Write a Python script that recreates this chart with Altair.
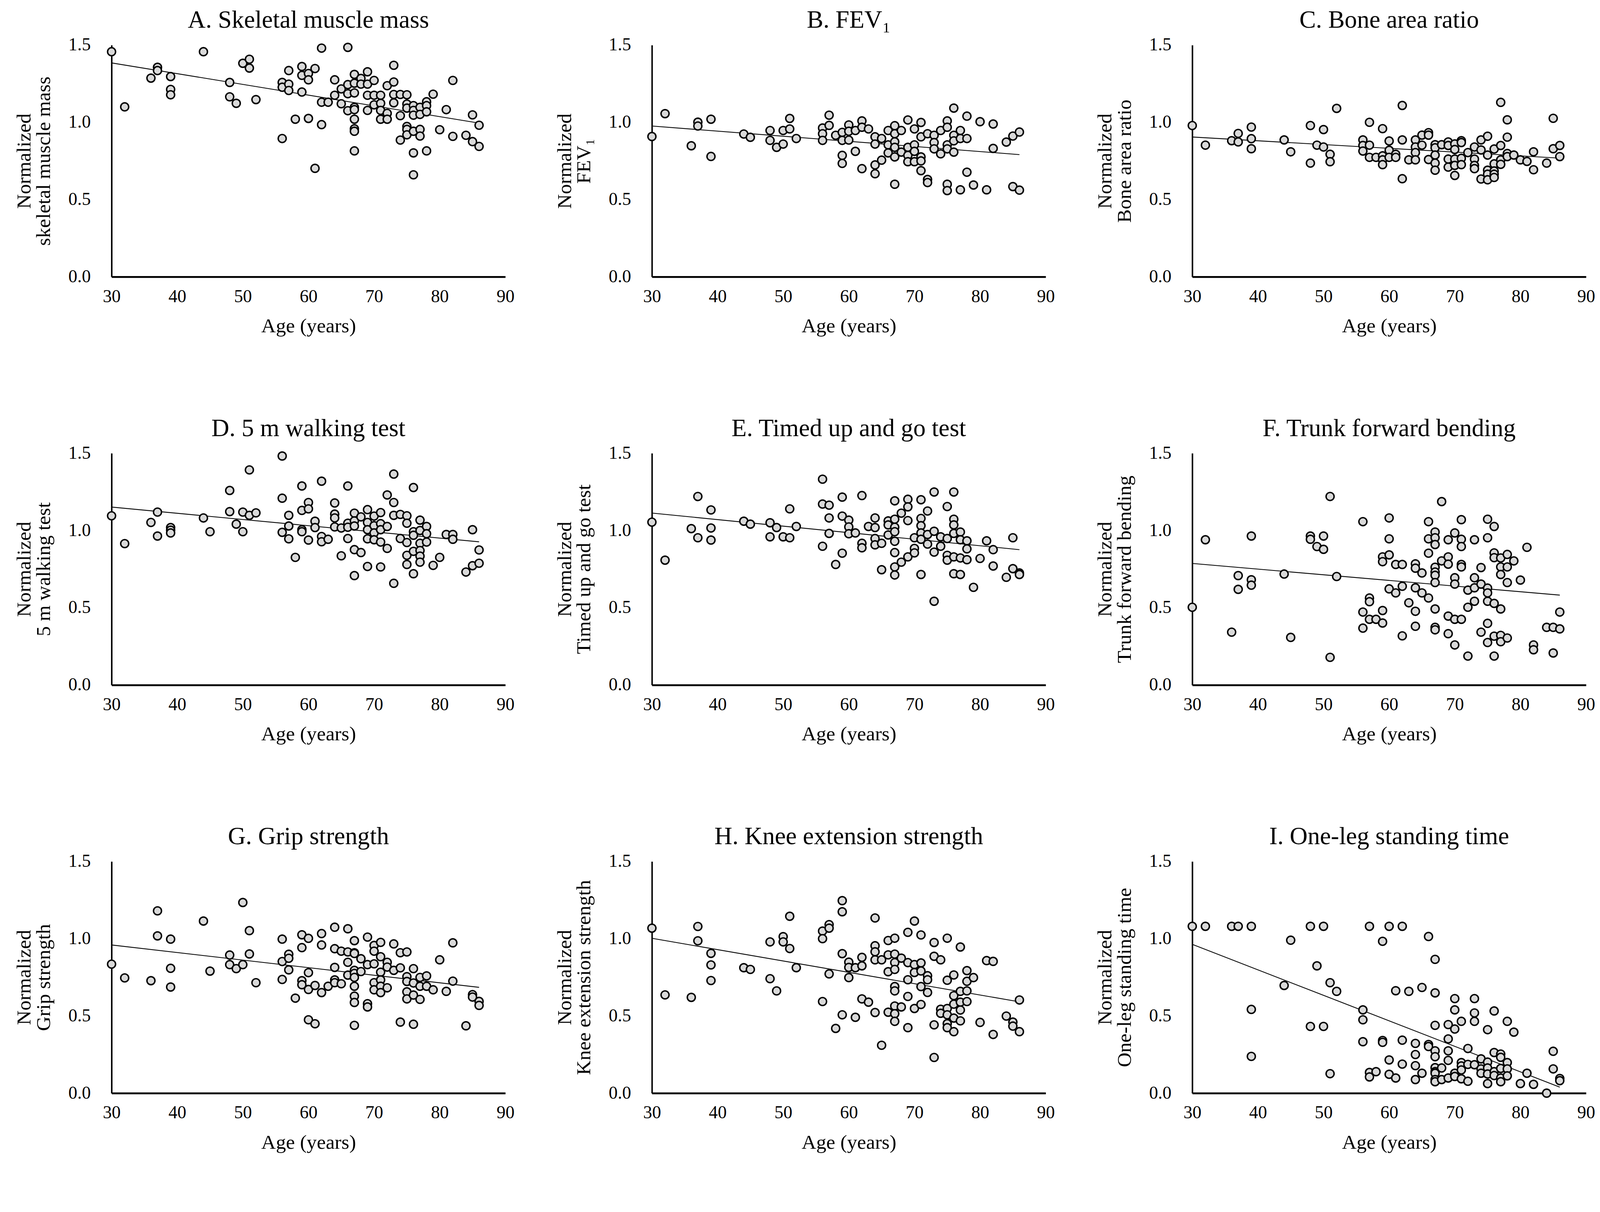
import altair as alt
import pandas as pd

# (age, normalized value) pairs
A_pts = [(30,1.457),(32,1.10),(36,1.286),(37,1.356),(37,1.335),(39,1.296),(39,1.213),(39,1.178),(44,1.457),(48,1.258),
         (48,1.165),(49,1.123),(50,1.382),(51,1.408),(51,1.351),(52,1.147),(56,1.258),(56,1.227),(57,1.247),(57,1.206),
         (57,1.335),(56,0.895),(58,1.02),(59,1.361),(59,1.304),(59,1.196),(60,1.316),(60,1.275),(60,1.025),(61,1.348),
         (61,0.702),(62,1.48),(62,1.13),(62,0.985),(63,1.13),(64,1.275),(64,1.175),(65,1.216),(65,1.12),(66,1.485),
         (66,1.244),(66,1.185),(66,1.075),(67,1.31),(67,1.253),(67,1.19),(67,1.097),(67,1.082),(67,1.02),(67,0.958),
         (67,0.942),(67,0.815),(68,1.284),(68,1.247),(69,1.327),(69,1.247),(69,1.175),(69,1.077),(70,1.271),(70,1.175),
         (70,1.113),(71,1.175),(71,1.123),(71,1.077),(71,1.02),(72,1.237),(72,1.058),(72,1.02),(73,1.369),(73,1.261),
         (73,1.18),(73,1.126),(74,1.18),(74,1.043),(74,0.885),(75,1.178),(75,1.118),(75,1.092),(75,0.973),(75,0.954),
         (75,0.919),(76,1.108),(76,1.077),(76,1.046),(76,0.942),(76,0.802),(76,0.66),(77,1.097),(77,1.051),(77,0.954),
         (77,0.911),(78,1.133),(78,1.108),(78,1.068),(78,0.815),(79,1.182),(80,0.952),(81,1.082),(82,1.271),(82,0.909),
         (84,0.916),(85,1.048),(85,0.875),(86,0.981),(86,0.844)]

B_pts = [(30,0.908),(32,1.056),(36,0.848),(37,1.001),(37,0.976),(39,1.020),(39,0.779),(44,0.924),(45,0.903),(48,0.947),
         (48,0.883),(49,0.838),(50,0.947),(50,0.859),(51,1.025),(51,0.957),(52,0.895),(56,0.963),(56,0.926),(56,0.883),
         (57,1.046),(57,0.980),(58,0.916),(59,0.935),(59,0.883),(59,0.786),(59,0.734),(60,0.983),(60,0.942),(60,0.885),
         (61,0.947),(61,0.812),(62,1.009),(62,0.968),(62,0.700),(63,0.957),(64,0.906),(64,0.859),(64,0.724),(64,0.667),
         (65,0.895),(65,0.755),(66,0.947),(66,0.854),(66,0.802),(67,0.978),(67,0.926),(67,0.874),(67,0.838),(67,0.776),
         (67,0.599),(68,0.947),(68,0.807),(69,1.015),(69,0.838),(69,0.786),(69,0.745),(70,0.957),(70,0.854),(70,0.812),
         (70,0.745),(71,0.999),(71,0.906),(71,0.776),(71,0.750),(71,0.687),(72,0.926),(72,0.630),(72,0.610),(73,0.916),
         (73,0.869),(73,0.828),(74,0.947),(74,0.796),(75,1.009),(75,0.968),(75,0.854),(75,0.828),(75,0.599),(75,0.558),
         (76,1.092),(76,0.916),(76,0.880),(76,0.807),(77,0.947),(77,0.895),(77,0.563),(78,1.040),(78,0.895),(78,0.677),
         (79,0.594),(80,1.004),(81,0.563),(82,0.989),(82,0.831),(84,0.872),(85,0.911),(85,0.584),(86,0.937),(86,0.561)]

C_pts = [(30,0.979),(32,0.852),(36,0.881),(37,0.928),(37,0.873),(39,0.969),(39,0.894),(39,0.829),(44,0.886),(45,0.809),
         (48,0.979),(48,0.736),(49,0.852),(50,0.953),(50,0.840),(51,0.793),(51,0.745),(52,1.090),(56,0.886),(56,0.850),
         (56,0.814),(57,1.000),(57,0.852),(57,0.773),(58,0.773),(59,0.959),(59,0.783),(59,0.757),(59,0.726),(60,0.879),
         (60,0.819),(60,0.773),(61,0.793),(61,0.773),(62,1.109),(62,0.886),(62,0.635),(63,0.757),(64,0.886),(64,0.840),
         (64,0.804),(64,0.757),(65,0.917),(65,0.852),(66,0.933),(66,0.917),(66,0.759),(67,0.855),(67,0.835),(67,0.788),
         (67,0.736),(67,0.690),(68,0.855),(69,0.873),(69,0.850),(69,0.762),(69,0.710),(70,0.860),(70,0.824),(70,0.762),
         (70,0.721),(70,0.656),(71,0.881),(71,0.869),(71,0.767),(71,0.726),(72,0.804),(73,0.840),(73,0.762),(73,0.721),
         (73,0.700),(74,0.886),(74,0.821),(74,0.633),(75,0.910),(75,0.788),(75,0.690),(75,0.664),(75,0.628),(76,0.827),
         (76,0.731),(76,0.685),(76,0.664),(76,0.643),(77,1.129),(77,0.850),(77,0.757),(77,0.728),(78,1.016),(78,0.904),
         (78,0.798),(78,0.778),(79,0.788),(80,0.757),(81,0.747),(82,0.809),(82,0.693),(84,0.736),(85,1.026),(85,0.829),
         (86,0.850),(86,0.778)]

D_pts = [(30,1.095),(32,0.915),(36,1.052),(37,1.119),(37,0.964),(39,1.019),(39,1.002),(39,0.984),(44,1.081),(45,0.992),
         (48,1.259),(48,1.122),(49,1.041),(50,1.119),(50,0.992),(51,1.392),(51,1.098),(52,1.114),(56,1.482),(56,1.209),
         (56,0.988),(57,1.098),(57,1.029),(57,0.946),(58,0.826),(59,1.288),(59,1.130),(59,1.005),(59,0.992),(60,1.181),
         (60,1.140),(60,0.938),(61,1.060),(61,1.019),(62,1.319),(62,0.961),(62,0.927),(63,0.943),(64,1.178),(64,1.106),
         (64,1.081),(64,1.023),(65,1.016),(65,0.836),(66,1.288),(66,1.047),(66,1.021),(66,0.948),(67,1.112),(67,1.062),
         (67,1.029),(67,0.876),(67,0.708),(68,1.088),(68,0.857),(69,1.135),(69,1.052),(69,1.005),(69,0.946),(69,0.767),
         (70,1.093),(70,1.031),(70,0.984),(70,0.940),(71,1.116),(71,1.044),(71,1.005),(71,0.925),(71,0.764),(72,1.230),
         (72,1.026),(72,0.884),(73,1.365),(73,1.181),(73,1.098),(73,0.658),(74,1.104),(74,0.948),(75,1.095),(75,1.047),
         (75,0.922),(75,0.839),(75,0.780),(76,1.278),(76,0.992),(76,0.969),(76,0.865),(76,0.720),(77,1.067),(77,1.000),
         (77,0.917),(77,0.870),(77,0.834),(77,0.795),(78,1.026),(78,0.979),(78,0.925),(79,0.774),(80,0.826),(81,0.974),
         (82,0.974),(82,0.943),(84,0.731),(85,1.005),(85,0.772),(86,0.874),(86,0.788)]

E_pts = [(30,1.054),(32,0.808),(36,1.012),(37,1.220),(37,0.953),(39,1.133),(39,1.016),(39,0.938),(44,1.060),(45,1.041),
         (48,1.050),(48,0.959),(49,1.019),(50,0.959),(51,1.140),(51,0.953),(52,1.026),(56,1.332),(56,1.171),(56,0.898),
         (57,1.164),(57,1.081),(57,0.981),(58,0.780),(59,1.216),(59,1.093),(59,0.853),(60,1.067),(60,1.023),(60,0.979),
         (61,0.984),(62,1.226),(62,0.917),(62,0.888),(63,1.026),(64,1.081),(64,1.019),(64,0.948),(64,0.907),(65,0.917),
         (65,0.746),(66,1.062),(66,1.036),(66,0.971),(67,1.192),(67,1.073),(67,1.021),(67,0.992),(67,0.930),(67,0.857),
         (67,0.764),(67,0.712),(68,1.112),(68,0.795),(69,1.202),(69,1.153),(69,1.064),(69,0.829),(70,0.953),(70,0.884),
         (70,0.855),(71,1.199),(71,1.078),(71,1.031),(71,0.984),(71,0.943),(71,0.715),(72,1.126),(72,0.974),(72,0.912),
         (73,1.249),(73,0.995),(73,0.860),(73,0.542),(74,0.959),(74,0.898),(75,1.155),(75,0.948),(75,0.839),(75,0.808),
         (76,1.249),(76,1.073),(76,1.036),(76,0.981),(76,0.829),(76,0.720),(77,0.990),(77,0.940),(77,0.822),(77,0.715),
         (78,0.933),(78,0.881),(78,0.811),(79,0.632),(80,0.819),(81,0.933),(82,0.876),(82,0.770),(84,0.697),(85,0.953),
         (85,0.753),(86,0.725),(86,0.715)]

F_pts = [(30,0.503),(32,0.940),(36,0.342),(37,0.708),(37,0.619),(39,0.964),(39,0.681),(39,0.646),(44,0.718),(45,0.308),
         (48,0.964),(48,0.943),(49,0.896),(50,0.964),(50,0.878),(51,1.220),(51,0.179),(52,0.702),(56,1.057),(56,0.472),
         (56,0.368),(57,0.563),(57,0.539),(57,0.425),(58,0.425),(59,0.829),(59,0.798),(59,0.482),(59,0.401),(60,1.081),
         (60,0.946),(60,0.842),(60,0.622),(61,0.780),(61,0.596),(62,0.780),(62,0.639),(62,0.318),(63,0.532),(64,0.784),
         (64,0.756),(64,0.629),(64,0.477),(64,0.380),(65,0.725),(65,0.596),(66,1.057),(66,0.946),(66,0.853),(66,0.563),
         (67,0.990),(67,0.953),(67,0.909),(67,0.762),(67,0.731),(67,0.710),(67,0.663),(67,0.492),(67,0.373),(67,0.357),
         (68,1.187),(68,0.803),(69,0.940),(69,0.829),(69,0.782),(69,0.446),(69,0.332),(70,0.984),(70,0.694),(70,0.653),
         (70,0.425),(70,0.259),(71,1.070),(71,0.943),(71,0.896),(71,0.780),(71,0.764),(71,0.425),(72,0.614),(72,0.503),
         (72,0.187),(73,0.940),(73,0.694),(73,0.629),(73,0.542),(74,0.760),(74,0.653),(74,0.342),(75,1.073),(75,0.953),
         (75,0.627),(75,0.596),(75,0.542),(75,0.399),(75,0.275),(76,1.026),(76,0.855),(76,0.824),(76,0.528),(76,0.316),
         (76,0.187),(77,0.822),(77,0.764),(77,0.715),(77,0.492),(77,0.321),(77,0.280),(78,0.845),(78,0.764),(78,0.663),
         (78,0.304),(79,0.803),(80,0.679),(81,0.891),(82,0.259),(82,0.228),(84,0.373),(85,0.373),(85,0.207),(86,0.472),
         (86,0.363)]

G_pts = [(30,0.835),(32,0.746),(36,0.728),(37,1.180),(37,1.018),(39,0.997),(39,0.808),(39,0.687),(44,1.114),(45,0.790),
         (48,0.894),(48,0.832),(49,0.806),(50,0.832),(50,1.234),(51,1.052),(51,0.901),(52,0.715),(56,0.997),(56,0.852),
         (56,0.736),(57,0.899),(57,0.873),(57,0.798),(58,0.615),(59,1.025),(59,0.942),(59,0.728),(59,0.702),(60,1.002),
         (60,0.780),(60,0.671),(60,0.475),(61,0.697),(61,0.449),(62,1.033),(62,0.959),(62,0.651),(63,0.692),(64,1.074),
         (64,0.935),(64,0.814),(64,0.733),(64,0.715),(65,0.919),(65,0.708),(66,1.064),(66,0.847),(66,0.764),(66,0.914),
         (67,0.987),(67,0.909),(67,0.904),(67,0.795),(67,0.775),(67,0.749),(67,0.692),(67,0.628),(67,0.587),(67,0.439),
         (68,0.870),(68,0.787),(69,1.010),(69,0.832),(69,0.579),(69,0.558),(70,0.956),(70,0.919),(70,0.837),(70,0.715),
         (70,0.669),(71,0.976),(71,0.883),(71,0.783),(71,0.733),(71,0.692),(71,0.651),(72,0.847),(72,0.816),(72,0.682),
         (73,0.966),(73,0.795),(74,0.909),(74,0.811),(74,0.460),(75,0.914),(75,0.754),(75,0.723),(75,0.656),(75,0.610),
         (76,0.806),(76,0.713),(76,0.635),(76,0.446),(77,0.749),(77,0.692),(77,0.607),(78,0.759),(78,0.692),(79,0.669),
         (80,0.863),(81,0.659),(82,0.973),(82,0.725),(84,0.436),(85,0.638),(85,0.622),(86,0.594),(86,0.568)]

H_pts = [(30,1.068),(32,0.636),(36,0.620),(37,1.079),(37,0.986),(39,0.905),(39,0.830),(39,0.729),(44,0.812),(45,0.801),
         (48,0.979),(48,0.741),(49,0.662),(50,1.013),(50,0.979),(51,1.145),(51,0.936),(52,0.812),(56,1.049),(56,1.000),
         (56,0.593),(57,1.091),(57,1.068),(57,0.772),(58,0.419),(59,1.246),(59,1.174),(59,0.903),(59,0.507),(60,0.848),
         (60,0.814),(60,0.748),(61,0.812),(61,0.491),(62,0.879),(62,0.824),(62,0.610),(63,0.589),(64,1.134),(64,0.954),
         (64,0.915),(64,0.863),(64,0.522),(65,0.863),(65,0.310),(66,0.988),(66,0.895),(66,0.786),(66,0.524),(67,1.003),
         (67,0.900),(67,0.845),(67,0.801),(67,0.690),(67,0.662),(67,0.564),(67,0.514),(67,0.465),(68,0.874),(68,0.558),
         (69,1.041),(69,0.845),(69,0.734),(69,0.626),(69,0.424),(70,1.114),(70,0.832),(70,0.781),(70,0.548),(71,1.024),
         (71,0.843),(71,0.791),(71,0.690),(71,0.574),(72,0.760),(72,0.734),(72,0.652),(73,0.975),(73,0.886),(73,0.442),
         (73,0.231),(74,0.863),(74,0.543),(74,0.517),(75,1.003),(75,0.731),(75,0.548),(75,0.507),(75,0.450),(75,0.424),
         (76,0.765),(76,0.631),(76,0.576),(76,0.486),(76,0.398),(77,0.946),(77,0.659),(77,0.589),(77,0.538),(77,0.468),
         (78,0.793),(78,0.724),(78,0.662),(78,0.593),(79,0.748),(80,0.458),(81,0.858),(82,0.853),(82,0.380),(84,0.499),
         (85,0.460),(85,0.434),(86,0.603),(86,0.398)]

I_pts = [(30,1.080),(32,1.080),(36,1.080),(37,1.080),(39,1.080),(39,0.542),(39,0.238),(44,0.697),(45,0.990),(48,1.080),
         (48,0.432),(49,0.824),(50,1.080),(50,0.432),(51,0.715),(51,0.126),(52,0.659),(56,0.539),(56,0.475),(56,0.333),
         (57,1.080),(57,0.134),(57,0.105),(58,0.139),(59,0.983),(59,0.341),(59,0.329),(60,1.080),(60,0.215),(60,0.122),
         (61,0.663),(61,0.098),(62,1.080),(62,0.343),(62,0.188),(63,0.659),(64,0.322),(64,0.250),(64,0.178),(64,0.088),
         (65,0.684),(65,0.129),(66,1.014),(66,0.315),(66,0.302),(67,0.866),(67,0.649),(67,0.439),(67,0.274),(67,0.236),
         (67,0.165),(67,0.139),(67,0.129),(67,0.088),(67,0.074),(68,0.163),(68,0.088),(69,0.444),(69,0.351),(69,0.274),
         (69,0.212),(69,0.098),(70,0.612),(70,0.539),(70,0.415),(70,0.129),(70,0.108),(71,0.465),(71,0.198),(71,0.176),
         (71,0.150),(71,0.093),(72,0.289),(72,0.186),(72,0.077),(73,0.612),(73,0.519),(73,0.465),(73,0.184),(74,0.222),
         (74,0.157),(74,0.129),(75,0.411),(75,0.201),(75,0.163),(75,0.124),(75,0.062),(76,0.532),(76,0.263),(76,0.139),
         (76,0.114),(77,0.253),(77,0.232),(77,0.160),(77,0.098),(77,0.074),(78,0.465),(78,0.198),(78,0.157),(78,0.112),
         (79,0.395),(80,0.062),(81,0.129),(82,0.057),(84,0.000),(85,0.271),(85,0.157),(86,0.095),(86,0.081)]

panel_titles = ["A. Skeletal muscle mass", "B. FEV\u2081", "C. Bone area ratio",
                "D. 5 m walking test", "E. Timed up and go test", "F. Trunk forward bending",
                "G. Grip strength", "H. Knee extension strength", "I. One-leg standing time"]
y_titles = [["Normalized", "skeletal muscle mass"], ["Normalized", "FEV\u2081"], ["Normalized", "Bone area ratio"],
            ["Normalized", "5 m walking test"], ["Normalized", "Timed up and go test"], ["Normalized", "Trunk forward bending"],
            ["Normalized", "Grip strength"], ["Normalized", "Knee extension strength"], ["Normalized", "One-leg standing time"]]
x_ticks = [30, 40, 50, 60, 70, 80, 90]
y_ticks = [0.0, 0.5, 1.0, 1.5]

FONT = "Liberation Serif"


def panel(pts, title, ytitle):
    df = pd.DataFrame(pts, columns=["age", "value"])
    base = alt.Chart(df)
    x = alt.X("age:Q", scale=alt.Scale(domain=[30, 90], nice=False, zero=False),
              axis=alt.Axis(values=x_ticks, title="Age (years)"))
    y = alt.Y("value:Q", scale=alt.Scale(domain=[0, 1.5], nice=False),
              axis=alt.Axis(values=y_ticks, format=".1f", title=ytitle))
    line = base.transform_regression("age", "value").mark_line(
        color="black", strokeWidth=2.2).encode(x=x, y=y)
    dots = base.mark_circle(size=460, fill="#d9d9d9", stroke="black", strokeWidth=3.8,
                            opacity=1, fillOpacity=1).encode(x=x, y=y)
    return alt.layer(line, dots).properties(
        width=1053, height=620,
        title=alt.TitleParams(title, font=FONT, fontSize=66, fontWeight="normal",
                              color="black", baseline="alphabetic", offset=-44))


panels = [panel(p, t, yt) for p, t, yt in zip(
    [A_pts, B_pts, C_pts, D_pts, E_pts, F_pts, G_pts, H_pts, I_pts], panel_titles, y_titles)]

chart = alt.concat(*panels, columns=3, spacing=alt.RowColnumber(row=472, column=392), bounds="flush").properties(
    padding={"left": 30, "top": -54, "right": 5, "bottom": 5}, background="white"
).configure_view(stroke=None).configure_axis(
    grid=False, ticks=False, tickSize=0, domainColor="black", labelFlush=False,
    labelFont=FONT, labelFontSize=48, labelColor="black",
    titleFont=FONT, titleFontSize=54, titleFontWeight="normal", titleColor="black",
    titleLineHeight=52,
).configure_axisX(domainWidth=5, labelPadding=29, titlePadding=28).configure_axisY(
    domainWidth=4, labelPadding=56, titlePadding=38
)

chart.save("out.html", embed_options={"renderer": "svg", "actions": False})
